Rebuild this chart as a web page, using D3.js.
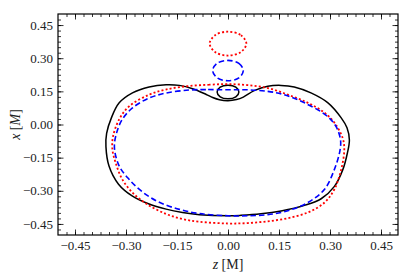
<!DOCTYPE html>
<html>
<head>
<meta charset="utf-8">
<script src="https://cdn.jsdelivr.net/npm/d3@7"></script>
<style>
  body { margin: 0; background: #fff; }
  svg { display: block; }
</style>
</head>
<body>
<svg width="415" height="277"></svg>
<script>
var serif = "'Liberation Serif', 'Times New Roman', 'DejaVu Serif', serif";

// tick labels
var majorTicks = [-0.45, -0.30, -0.15, 0.00, 0.15, 0.30, 0.45];

// curves, [z, x] in units of M
var blackOuter = [
  [0, 0.108], [-0.025, 0.112], [-0.045, 0.122], [-0.064, 0.136], [-0.104, 0.162],
  [-0.143, 0.177], [-0.182, 0.180], [-0.232, 0.170], [-0.281, 0.143], [-0.320, 0.098],
  [-0.343, 0.030], [-0.357, -0.040], [-0.359, -0.100], [-0.350, -0.188], [-0.322, -0.270],
  [-0.282, -0.323], [-0.232, -0.360], [-0.182, -0.383], [-0.134, -0.398], [-0.084, -0.408],
  [0, -0.413], [0.038, -0.411], [0.097, -0.404], [0.156, -0.391], [0.225, -0.366],
  [0.274, -0.336], [0.313, -0.280], [0.338, -0.203], [0.351, -0.130], [0.357, -0.070],
  [0.350, -0.015], [0.333, 0.030], [0.294, 0.098], [0.244, 0.143], [0.195, 0.170],
  [0.156, 0.177], [0.117, 0.173], [0.077, 0.153], [0.045, 0.124], [0.025, 0.113]
];
var blackLoop = [
  [0, 0.178], [0.023, 0.169], [0.032, 0.147], [0.023, 0.125], [0, 0.116],
  [-0.023, 0.125], [-0.032, 0.147], [-0.023, 0.169]
];
var blueOuter = [
  [0, 0.157], [-0.065, 0.158], [-0.114, 0.156], [-0.183, 0.142], [-0.232, 0.120],
  [-0.281, 0.075], [-0.311, 0.023], [-0.328, -0.040], [-0.334, -0.105], [-0.320, -0.188],
  [-0.291, -0.248], [-0.251, -0.306], [-0.202, -0.352], [-0.143, -0.384], [-0.084, -0.403],
  [0, -0.413], [0.058, -0.413], [0.117, -0.408], [0.176, -0.390], [0.235, -0.353],
  [0.284, -0.293], [0.313, -0.203], [0.329, -0.120], [0.331, -0.070], [0.318, -0.010],
  [0.290, 0.040], [0.225, 0.098], [0.165, 0.135], [0.117, 0.150], [0.058, 0.157]
];
var blueSmall = [
  [0, 0.290], [0.032, 0.277], [0.045, 0.244], [0.032, 0.211], [0, 0.198],
  [-0.032, 0.211], [-0.045, 0.244], [-0.032, 0.277]
];
var redOuter = [
  [0, 0.183], [-0.055, 0.180], [-0.123, 0.173], [-0.183, 0.158], [-0.232, 0.135],
  [-0.291, 0.082], [-0.320, 0.023], [-0.338, -0.053], [-0.340, -0.113], [-0.330, -0.175],
  [-0.311, -0.248], [-0.281, -0.308], [-0.241, -0.358], [-0.182, -0.405], [-0.133, -0.428],
  [-0.084, -0.440], [0, -0.448], [0.058, -0.446], [0.117, -0.438], [0.176, -0.424],
  [0.235, -0.398], [0.284, -0.353], [0.313, -0.293], [0.333, -0.203], [0.342, -0.113],
  [0.337, -0.060], [0.313, 0.008], [0.284, 0.053], [0.235, 0.098], [0.176, 0.135],
  [0.117, 0.165], [0.058, 0.178]
];
var redSmall = [
  [0, 0.420], [0.038, 0.404], [0.054, 0.366], [0.038, 0.328], [0, 0.312],
  [-0.038, 0.328], [-0.054, 0.366], [-0.038, 0.404]
];

var svg = d3.select("svg"),
  margin = {top: 14, right: 17, bottom: 42, left: 58},
  width = +svg.attr("width") - margin.left - margin.right,
  height = +svg.attr("height") - margin.top - margin.bottom;

var x = d3.scaleLinear().domain([-0.5, 0.5]).range([0, width]),
  y = d3.scaleLinear().domain([-0.5, 0.5]).range([height, 0]);

var g = svg.append("g")
  .attr("transform", "translate(" + margin.left + "," + margin.top + ")");

var minorTicks = d3.range(-19, 20).map(function(i) { return i * 0.025; });
var fmt = d3.format(".2f");

function addAxis(axisFn, scale, values, size, labels, transform) {
  var a = g.append("g")
    .attr("transform", transform || null)
    .call(axisFn(scale).tickValues(values).tickSize(-size).tickPadding(labels ? 6 : 0)
      .tickFormat(labels ? fmt : ""));
  a.select(".domain").remove();
  a.attr("font-family", serif).attr("font-size", 13);
  a.selectAll("text").style("font-family", serif).style("font-size", "13px").attr("fill", "#222");
  a.selectAll("line").attr("stroke", "#000").attr("stroke-width", 0.8);
  return a;
}

// minor ticks on all four sides
addAxis(d3.axisBottom, x, minorTicks, 3, false, "translate(0," + height + ")");
addAxis(d3.axisTop, x, minorTicks, 3, false);
addAxis(d3.axisLeft, y, minorTicks, 3, false);
addAxis(d3.axisRight, y, minorTicks, 3, false, "translate(" + width + ",0)");
// major ticks
addAxis(d3.axisBottom, x, majorTicks, 5.5, true, "translate(0," + height + ")");
addAxis(d3.axisTop, x, majorTicks, 5.5, false);
addAxis(d3.axisLeft, y, majorTicks, 5.5, true).selectAll("text").attr("x", -5);
addAxis(d3.axisRight, y, majorTicks, 5.5, false, "translate(" + width + ",0)");

var line = d3.line()
  .x(function(d) { return x(d[0]); })
  .y(function(d) { return y(d[1]); })
  .curve(d3.curveCatmullRomClosed.alpha(0.5));

var curves = [
  {data: blackOuter, color: "#000", dash: null, w: 1.5},
  {data: blackLoop, color: "#000", dash: null, w: 1.5},
  {data: redOuter, color: "#ff0000", dash: "2,2.2", w: 1.8},
  {data: redSmall, color: "#ff0000", dash: "2,2.2", w: 1.8},
  {data: blueOuter, color: "#0000ff", dash: "5.5,3", w: 1.6},
  {data: blueSmall, color: "#0000ff", dash: "5.5,3", w: 1.6}
];

g.selectAll(".curve")
  .data(curves)
  .enter().append("path")
  .attr("class", "curve")
  .attr("d", function(d) { return line(d.data); })
  .attr("fill", "none")
  .attr("stroke", function(d) { return d.color; })
  .attr("stroke-width", function(d) { return d.w; })
  .attr("stroke-dasharray", function(d) { return d.dash; });

// frame
g.append("rect")
  .attr("width", width)
  .attr("height", height)
  .attr("fill", "none")
  .attr("stroke", "#000")
  .attr("stroke-width", 1.2);

// axis labels
var xl = svg.append("text")
  .style("font-family", serif)
  .style("font-size", "14px")
  .attr("fill", "#222")
  .attr("x", margin.left + width / 2)
  .attr("y", 269)
  .attr("text-anchor", "middle");
xl.append("tspan").style("font-style", "italic").text("z");
xl.append("tspan").text(" [M]");

var yl = svg.append("text")
  .style("font-family", serif)
  .style("font-size", "14px")
  .attr("fill", "#222")
  .attr("transform", "translate(20," + (margin.top + height / 2) + ") rotate(-90)")
  .attr("text-anchor", "middle");
yl.append("tspan").style("font-style", "italic").text("x");
yl.append("tspan").text(" [");
yl.append("tspan").style("font-style", "italic").text("M");
yl.append("tspan").text("]");
</script>
</body>
</html>
